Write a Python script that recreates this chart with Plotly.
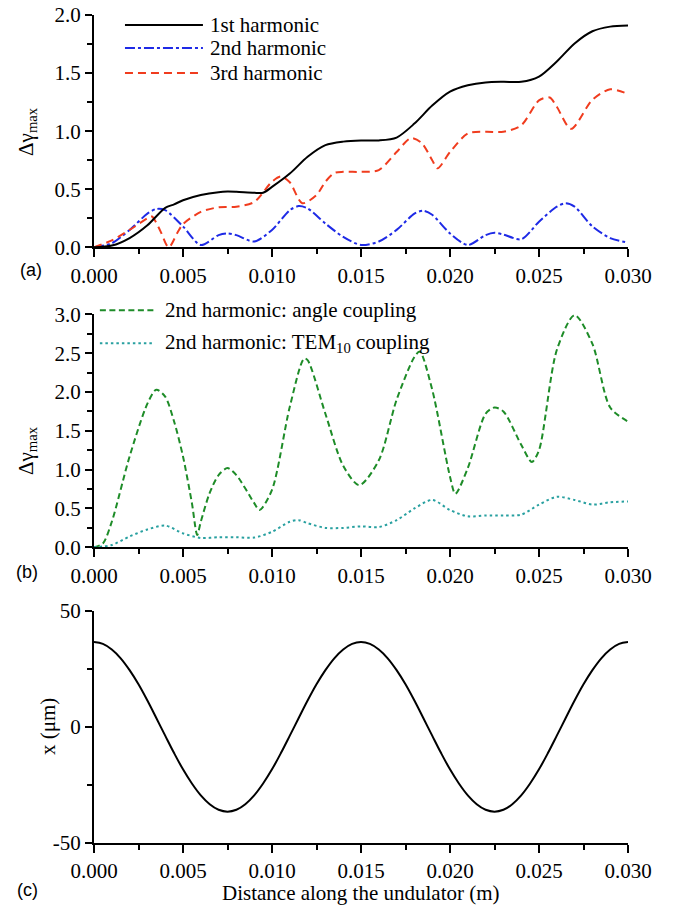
import plotly.graph_objects as go

# ---------------- data ----------------
# panel (a)
z_h1 = [0, .001, .002, .003, .004, .0045, .005, .006, .007, .0075, .008, .009, .0095, .010, .011, .012,
        .013, .014, .015, .016, .017, .018, .019, .020, .021, .022, .023, .024, .025, .026, .027,
        .028, .029, .030]
h1 = [0, 0.015, 0.08, 0.19, 0.34, 0.37, 0.405, 0.45, 0.475, 0.48, 0.478, 0.47, 0.47, 0.52, 0.635, 0.78,
      0.88, 0.91, 0.92, 0.92, 0.945, 1.065, 1.22, 1.34, 1.395, 1.42, 1.425, 1.425, 1.47, 1.60, 1.755,
      1.86, 1.90, 1.91]

z_h2 = [0, .001, .002, .003, .0035, .004, .005, .006, .007, .0075, .008, .009, .010, .011, .0115, .012,
        .013, .014, .015, .016, .017, .018, .0185, .019, .020, .021, .022, .0225, .023, .024, .025,
        .026, .0265, .027, .028, .029, .030]
h2 = [0, 0.035, 0.15, 0.29, 0.33, 0.32, 0.18, 0.02, 0.105, 0.12, 0.105, 0.05, 0.15, 0.32, 0.355, 0.335,
      0.205, 0.09, 0.02, 0.05, 0.15, 0.29, 0.315, 0.28, 0.12, 0.02, 0.105, 0.125, 0.11, 0.07, 0.22,
      0.35, 0.38, 0.35, 0.18, 0.08, 0.04]

z_h3 = [0, .001, .002, .003, .00325, .0037, .0042, .0047, .005, .006, .007, .008, .009, .010, .0105,
        .011, .0117, .0125, .013, .0135, .014, .015, .016, .017, .0178, .0184, .019, .0193, .020,
        .021, .022, .023, .024, .025, .0256, .026, .0268, .028, .029, .030]
h3 = [0, 0.06, 0.15, 0.25, 0.265, 0.15, 0.0, 0.13, 0.2, 0.305, 0.345, 0.35, 0.39, 0.565, 0.61,
      0.56, 0.38, 0.45, 0.565, 0.64, 0.65, 0.65, 0.665, 0.82, 0.94, 0.90, 0.75, 0.68, 0.82,
      0.98, 0.995, 0.995, 1.05, 1.265, 1.29, 1.21, 1.02, 1.27, 1.36, 1.32]

# panel (b)
z_ang = [0, .0005, .001, .002, .003, .0035, .004, .0045, .005, .0055, .0058, .006, .0065, .007, .0075,
         .008, .009, .0093, .010, .011, .0118, .012, .013, .014, .0149, .016, .017, .018, .0183, .019,
         .020, .0203, .021, .022, .0225, .023, .024, .0246, .025, .026, .027, .028, .029, .030]
ang = [0, 0.05, 0.33, 1.17, 1.85, 2.03, 1.94, 1.62, 1.17, 0.57, 0.16, 0.33, 0.70, 0.93, 1.02,
       0.93, 0.57, 0.48, 0.74, 1.81, 2.43, 2.41, 1.72, 1.05, 0.80, 1.12, 1.90, 2.45, 2.52, 2.03,
       0.91, 0.69, 1.02, 1.72, 1.80, 1.75, 1.32, 1.10, 1.25, 2.54, 2.99, 2.62, 1.80, 1.62]

z_tem = [0, .001, .002, .003, .004, .005, .006, .007, .008, .009, .010, .011, .0115, .012, .013,
         .014, .015, .016, .017, .018, .019, .020, .021, .022, .023, .024, .025, .026, .027, .028,
         .029, .030]
tem = [0, 0.03, 0.14, 0.23, 0.28, 0.18, 0.12, 0.13, 0.13, 0.125, 0.20, 0.33, 0.35, 0.31, 0.25,
       0.25, 0.27, 0.26, 0.35, 0.50, 0.61, 0.48, 0.40, 0.41, 0.41, 0.42, 0.55, 0.65, 0.61, 0.55,
       0.58, 0.59]

# panel (c)
z_x = [0.0, 0.0005, 0.001, 0.0015, 0.002, 0.0025, 0.003, 0.0035, 0.004, 0.0045,
       0.005, 0.0055, 0.006, 0.0065, 0.007, 0.0075, 0.008, 0.0085, 0.009, 0.0095,
       0.010, 0.0105, 0.011, 0.0115, 0.012, 0.0125, 0.013, 0.0135, 0.014, 0.0145,
       0.015, 0.0155, 0.016, 0.0165, 0.017, 0.0175, 0.018, 0.0185, 0.019, 0.0195,
       0.020, 0.0205, 0.021, 0.0215, 0.022, 0.0225, 0.023, 0.0235, 0.024, 0.0245,
       0.025, 0.0255, 0.026, 0.0265, 0.027, 0.0275, 0.028, 0.0285, 0.029, 0.0295, 0.030]
xpos = [36.5, 35.7, 33.3, 29.5, 24.4, 18.3, 11.3, 3.8, -3.8, -11.3,
        -18.3, -24.4, -29.5, -33.3, -35.7, -36.5, -35.7, -33.3, -29.5, -24.4,
        -18.3, -11.3, -3.8, 3.8, 11.3, 18.3, 24.4, 29.5, 33.3, 35.7,
        36.5, 35.7, 33.3, 29.5, 24.4, 18.3, 11.3, 3.8, -3.8, -11.3,
        -18.3, -24.4, -29.5, -33.3, -35.7, -36.5, -35.7, -33.3, -29.5, -24.4,
        -18.3, -11.3, -3.8, 3.8, 11.3, 18.3, 24.4, 29.5, 33.3, 35.7, 36.5]

x_ticks = [0, 0.005, 0.010, 0.015, 0.020, 0.025, 0.030]
x_ticktext = ["0.000", "0.005", "0.010", "0.015", "0.020", "0.025", "0.030"]
x_minor = [0.0025, 0.0075, 0.0125, 0.0175, 0.0225, 0.0275]
ya_ticks = [0, 0.5, 1.0, 1.5, 2.0]
ya_text = ["0.0", "0.5", "1.0", "1.5", "2.0"]
yb_ticks = [0, 0.5, 1.0, 1.5, 2.0, 2.5, 3.0]
yb_text = ["0.0", "0.5", "1.0", "1.5", "2.0", "2.5", "3.0"]
yc_ticks = [-50, 0, 50]
yc_text = ["-50", "0", "50"]

legend_a = ["1st harmonic", "2nd harmonic", "3rd harmonic"]
legend_b = ["2nd harmonic: angle coupling", "2nd harmonic: TEM<sub>10</sub> coupling"]
ytitle_ab = "Δγ<sub>max</sub>"
ytitle_c = "x (μm)"
xtitle_c = "Distance along the undulator (m)"

# ---------------- styles ----------------
SERIF = "Liberation Serif"
SANS = "Liberation Sans"
C_BLACK = "#000000"
C_BLUE = "#1e2ae6"
C_RED = "#f03c1e"
C_GREEN = "#1e8c28"
C_TEAL = "#28a0a0"
D_RED = "8px,5px"
D_BLUE = "10px,3px,3px,3px"
D_GREEN = "6px,3.5px"
D_TEAL = "2.5px,3px"

fig = go.Figure()

def add(x, y, xa, ya, color, dash, smooth=0.8):
    fig.add_trace(go.Scatter(x=x, y=y, xaxis=xa, yaxis=ya, mode="lines", showlegend=False,
                             line=dict(color=color, width=2, dash=dash, shape="spline", smoothing=smooth),
                             hoverinfo="skip"))

add(z_h2, h2, "x", "y", C_BLUE, D_BLUE)
add(z_h3, h3, "x", "y", C_RED, D_RED)
add(z_h1, h1, "x", "y", C_BLACK, "solid")
add(z_ang, ang, "x2", "y2", C_GREEN, D_GREEN)
add(z_tem, tem, "x2", "y2", C_TEAL, D_TEAL)
add(z_x, xpos, "x3", "y3", C_BLACK, "solid", 1.0)

TF = dict(family=SERIF, size=21, color="black")

def xaxis(anchor):
    return dict(anchor=anchor, domain=[0, 1], range=[0, 0.030], showgrid=False, zeroline=False,
                showline=True, linewidth=2, linecolor="black", ticks="outside", ticklen=8, tickwidth=2,
                tickcolor="black", tickvals=x_ticks, ticktext=x_ticktext, tickfont=TF,
                ticklabeloverflow="allow",
                minor=dict(tickvals=x_minor, ticklen=5, tickwidth=2, tickcolor="black",
                           ticks="outside", showgrid=False))

def yaxis(anchor, dom, rng, tv, tt, minor):
    return dict(anchor=anchor, domain=dom, range=rng, showgrid=False, zeroline=False,
                showline=True, linewidth=2, linecolor="black", ticks="outside", ticklen=7, tickwidth=2,
                tickcolor="black", tickvals=tv, ticktext=tt, tickfont=TF,
                ticklabeloverflow="allow",
                minor=dict(tickvals=minor, ticklen=5, tickwidth=2, tickcolor="black",
                           ticks="outside", showgrid=False))

# the page body adds an 8px margin, so the figure is 8px smaller and offsets compensate
fig.update_layout(
    width=673, height=899,
    margin=dict(l=86, r=53, t=7, b=64, autoexpand=False),
    paper_bgcolor="white", plot_bgcolor="white",
    showlegend=False,
    xaxis=xaxis("y"),
    xaxis2=xaxis("y2"),
    xaxis3=xaxis("y3"),
    yaxis=yaxis("x", [0.7194, 1.0], [0, 2.0], ya_ticks, ya_text, [0.25, 0.75, 1.25, 1.75]),
    yaxis2=yaxis("x2", [0.3571, 0.6385], [0, 3.0], yb_ticks, yb_text,
                 [0.25, 0.75, 1.25, 1.75, 2.25, 2.75]),
    yaxis3=yaxis("x3", [0, 0.2806], [-50, 50], yc_ticks, yc_text, [-25, 25]),
)

# ---------------- legends / titles (drawn manually) ----------------
shapes = []
annots = []
leg_a_style = [(C_BLACK, "solid"), (C_BLUE, D_BLUE), (C_RED, D_RED)]
leg_a_y = [0.957, 0.858, 0.750]
for name, (c, d), yy in zip(legend_a, leg_a_style, leg_a_y):
    shapes.append(dict(type="line", xref="x domain", yref="y domain", x0=0.058, x1=0.204, y0=yy, y1=yy,
                       line=dict(color=c, width=2, dash=d)))
    annots.append(dict(text=name, xref="x domain", yref="y domain", x=0.213, y=yy, xanchor="left",
                       yanchor="middle", showarrow=False, font=TF))

leg_b_style = [(C_GREEN, D_GREEN), (C_TEAL, D_TEAL)]
leg_b_y = [1.017, 0.876]
for name, (c, d), yy in zip(legend_b, leg_b_style, leg_b_y):
    shapes.append(dict(type="line", xref="x2 domain", yref="y2 domain", x0=0.011, x1=0.114, y0=yy, y1=yy,
                       line=dict(color=c, width=2, dash=d)))
    annots.append(dict(text=name, xref="x2 domain", yref="y2 domain", x=0.129, y=yy, xanchor="left",
                       yanchor="middle", showarrow=False, font=TF))

# axis titles
annots.append(dict(text=xtitle_c, xref="x3 domain", yref="paper",
                   x=0.5, y=-0.0600, xanchor="center", yanchor="middle", showarrow=False, font=TF))
for txt, xx, yy in [(ytitle_ab, -0.1255, 0.860), (ytitle_ab, -0.1255, 0.4746), (ytitle_c, -0.0861, 0.140)]:
    annots.append(dict(text=txt, xref="paper", yref="paper", x=xx, y=yy, xanchor="center",
                       yanchor="middle", textangle=-90, showarrow=False, font=TF))

for lab, xx, yy in [("(a)", -0.118, 0.692), ("(b)", -0.125, 0.3273), ("(c)", -0.125, -0.0568)]:
    annots.append(dict(text=lab, xref="paper", yref="paper", x=xx, y=yy, xanchor="center",
                       yanchor="middle", showarrow=False,
                       font=dict(family=SANS, size=18, color="black")))

fig.update_layout(shapes=shapes, annotations=annots)

fig.write_html("out.html")
